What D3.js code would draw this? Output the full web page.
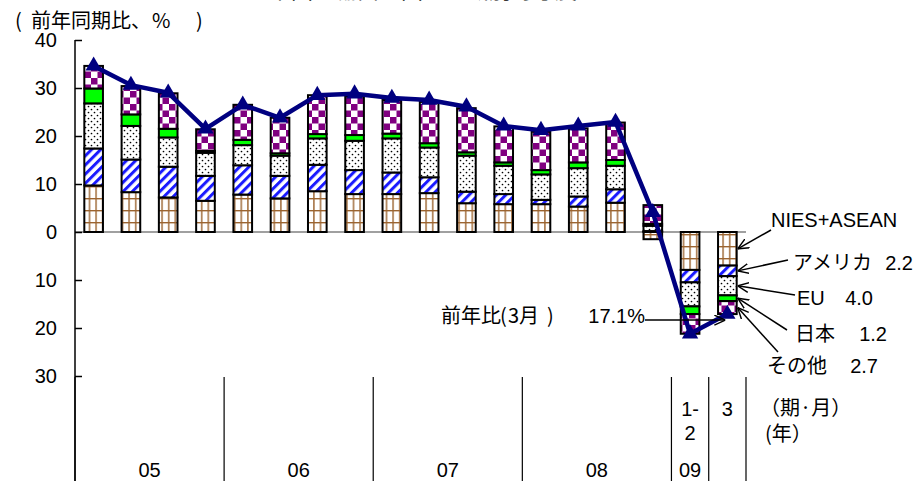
<!DOCTYPE html>
<html>
<head>
<meta charset="utf-8">
<script src="https://cdn.jsdelivr.net/npm/d3@7"></script>
<style>
  html, body { margin: 0; padding: 0; background: #fff; }
  svg { display: block; }
  text { font-family: "Liberation Sans", Arial, "Noto Sans CJK JP", sans-serif; fill: #000; }
</style>
</head>
<body>
<svg id="chart" width="918" height="481"></svg>
<script>
// ---------------- DATA ----------------
const categories = ["05Q1","05Q2","05Q3","05Q4","06Q1","06Q2","06Q3","06Q4",
                    "07Q1","07Q2","07Q3","07Q4","08Q1","08Q2","08Q3","08Q4","09/1-2","09/3"];
const monthLabels = ["","","","","","","","","","","","","","","","",["1-","2"],["3"]];
const yearLabels = ["05","06","07","08","09",""];
const yearCounts = [4, 4, 4, 4, 1, 1];
const seriesNames = ["NIES+ASEAN","アメリカ","EU","日本","その他"];
const niesAsean = [9.7, 8.3, 7.2, 6.5, 7.8, 7.0, 8.5, 7.9, 7.9, 8.1, 6.0, 5.8, 5.8, 5.3, 6.1, -1.5, -7.9, -7.0];
const america   = [7.7, 6.8, 6.4, 5.2, 6.1, 4.7, 5.5, 5.0, 4.5, 3.3, 2.4, 2.1, 0.9, 2.1, 2.8, 0.2, -2.6, -2.2];
const eu        = [9.4, 7.0, 6.1, 4.8, 4.2, 4.2, 5.5, 6.1, 7.1, 6.2, 7.5, 5.9, 5.3, 5.9, 4.9, 1.1, -5.0, -4.0];
const japan     = [3.1, 2.4, 1.8, 0.4, 1.1, 0.5, 0.9, 1.2, 1.0, 0.9, 0.7, 0.7, 0.9, 1.2, 1.2, 0.4, -1.6, -1.2];
const other     = [4.7, 5.9, 7.4, 4.5, 7.3, 7.4, 8.1, 8.0, 7.0, 8.6, 9.2, 7.5, 8.0, 7.1, 7.8, 3.9, -4.1, -2.7];
const total     = [34.6, 30.6, 29.0, 21.5, 26.5, 23.8, 28.5, 28.8, 27.9, 27.5, 26.1, 22.1, 21.2, 22.1, 22.9, 4.1, -21.2, -17.1];
const yTicks = [40, 30, 20, 10, 0, -10, -20, -30];
const titleText = "中国の輸出の国・地域別寄与度";
const unitParts = ["(", "前年同期比、", "%", ")"];
const periodNote = "（期·月）";
const yearNote = "(年）";
const latestParts = ["前年比", "(", "3月", ")"];

// ---------------- SETUP ----------------
const svg = d3.select("#chart");
const W = 918, H = 481;
const x0 = 75, x1 = 746;
const CJK = "'Noto Sans CJK JP', sans-serif";

const x = d3.scaleBand().domain(d3.range(categories.length)).range([x0, x1])
  .paddingInner(0.5).paddingOuter(0.25);
const step = x.step();
const y = d3.scaleLinear().domain([-30, 40]).range([376, 40]);

// patterns
const defs = svg.append("defs");
const pN = defs.append("pattern").attr("id","pNies").attr("patternUnits","userSpaceOnUse")
  .attr("width",6.6).attr("height",12);
pN.append("rect").attr("width",6.6).attr("height",12).attr("fill","#fff");
pN.append("rect").attr("x",3).attr("y",0).attr("width",1.4).attr("height",12).attr("fill","#9b6430");
pN.append("rect").attr("x",0).attr("y",6).attr("width",6.6).attr("height",1.4).attr("fill","#9b6430");

const pU = defs.append("pattern").attr("id","pUs").attr("patternUnits","userSpaceOnUse")
  .attr("width",6.5).attr("height",6.5).attr("patternTransform","rotate(45)");
pU.append("rect").attr("width",6.5).attr("height",6.5).attr("fill","#fff");
pU.append("rect").attr("x",0).attr("width",3).attr("height",6.5).attr("fill","#1a1aff");

const pE = defs.append("pattern").attr("id","pEu").attr("patternUnits","userSpaceOnUse")
  .attr("width",6).attr("height",6);
pE.append("rect").attr("width",6).attr("height",6).attr("fill","#fff");
pE.append("circle").attr("cx",1.5).attr("cy",1.5).attr("r",0.85).attr("fill","#000");
pE.append("circle").attr("cx",4.5).attr("cy",4.5).attr("r",0.85).attr("fill","#000");

const pO = defs.append("pattern").attr("id","pOther").attr("patternUnits","userSpaceOnUse")
  .attr("width",13).attr("height",13);
pO.append("rect").attr("width",13).attr("height",13).attr("fill","#fff");
pO.append("rect").attr("x",0).attr("y",0).attr("width",6.5).attr("height",6.5).attr("fill","#800080");
pO.append("rect").attr("x",6.5).attr("y",6.5).attr("width",6.5).attr("height",6.5).attr("fill","#800080");

const fills = ["url(#pNies)","url(#pUs)","url(#pEu)","#00ff00","url(#pOther)"];

defs.append("marker").attr("id","arr").attr("viewBox","0 0 10 10")
  .attr("refX",10).attr("refY",5).attr("markerWidth",11).attr("markerHeight",11)
  .attr("markerUnits","userSpaceOnUse").attr("orient","auto")
  .append("path").attr("d","M0,0.5 L10,5 L0,9.5").attr("fill","none")
  .attr("stroke","#000").attr("stroke-width",1.3);

// ---------------- TITLE / UNIT ----------------
svg.append("text").attr("x", 423).attr("y", -2).attr("text-anchor","middle")
  .style("font-size","22px").style("font-family", CJK).text(titleText);
const unit = svg.append("text").attr("y", 28).style("font-size","20px").style("font-family", CJK);
[15, 31, 152, 196].forEach((xx, k) => unit.append("tspan").attr("x", xx).text(unitParts[k]));

// ---------------- ZERO LINE ----------------
svg.append("line").attr("x1", x0).attr("x2", x1).attr("y1", y(0)).attr("y2", y(0))
  .attr("stroke","#808080").attr("stroke-width",1.5);

// ---------------- BARS ----------------
const table = categories.map((c, i) => ({
  i, s0: niesAsean[i], s1: america[i], s2: eu[i], s3: japan[i], s4: other[i]
}));
const stack = d3.stack().keys(["s0","s1","s2","s3","s4"]).offset(d3.stackOffsetDiverging);
const stacked = stack(table);

const gBars = svg.append("g");
stacked.forEach((layer, k) => {
  gBars.selectAll(null).data(layer).enter().append("rect")
    .attr("x", d => x(d.data.i))
    .attr("width", x.bandwidth())
    .attr("y", d => y(Math.max(d[0], d[1])))
    .attr("height", d => Math.abs(y(d[0]) - y(d[1])))
    .attr("fill", fills[k])
    .attr("stroke", "#000").attr("stroke-width", 2);
});

// ---------------- Y AXIS ----------------
const yAxis = d3.axisLeft(y).tickValues(yTicks).tickFormat(d => Math.abs(d))
  .tickSizeInner(-7).tickSizeOuter(0).tickPadding(18);
const gy = svg.append("g").attr("transform", `translate(${x0},0)`).call(yAxis);
gy.select(".domain").remove();
gy.selectAll(".tick line").attr("stroke","#000").attr("stroke-width",1.5);
gy.selectAll(".tick text").style("font-size","20px")
  .style("font-family","'Liberation Sans', Arial, sans-serif").attr("fill","#000");
svg.append("line").attr("x1", x0).attr("x2", x0).attr("y1", y(40)).attr("y2", H)
  .attr("stroke","#000").attr("stroke-width",1.5);

// ---------------- LINE ----------------
const line = d3.line().x((d, i) => x(i) + x.bandwidth() / 2).y(d => y(d));
svg.append("path").datum(total).attr("d", line).attr("fill","none")
  .attr("stroke","#000080").attr("stroke-width",4.5).attr("stroke-linejoin","round");
svg.selectAll(null).data(total).enter().append("path")
  .attr("d", d3.symbol().type(d3.symbolTriangle).size(115))
  .attr("transform", (d, i) => `translate(${x(i) + x.bandwidth() / 2},${y(d)})`)
  .attr("fill","#000080");

// ---------------- CATEGORY AXIS ----------------
const catTop = 377;
let acc = 0;
const bounds = [0];
yearCounts.forEach(n => { acc += n; bounds.push(acc); });
const gCat = svg.append("g");
bounds.forEach(b => {
  gCat.append("line").attr("x1", x0 + b * step).attr("x2", x0 + b * step)
    .attr("y1", catTop).attr("y2", H).attr("stroke","#000").attr("stroke-width",1.2);
});
yearLabels.forEach((lab, k) => {
  const xm = x0 + (bounds[k] + bounds[k + 1]) / 2 * step;
  gCat.append("text").attr("x", xm).attr("y", 477).attr("text-anchor","middle")
    .style("font-size","20px").text(lab);
});
monthLabels.forEach((lab, i) => {
  if (!lab) return;
  lab.forEach((t, j) => {
    gCat.append("text").attr("x", x(i) + x.bandwidth() / 2).attr("y", 416 + j * 24)
      .attr("text-anchor","middle").style("font-size","20px").text(t);
  });
});
gCat.append("text").attr("x", 760).attr("y", 415).style("font-size","20px")
  .style("font-family", CJK).text(periodNote);
gCat.append("text").attr("x", 765).attr("y", 441).style("font-size","20px")
  .style("font-family", CJK).text(yearNote);

// ---------------- ANNOTATIONS ----------------
const last = categories.length - 1;
const barRight = x(last) + x.bandwidth() + 1;
const annLayout = [
  { tx: 771, ty: 227, vx: null, sx: 771, sy: 230 },
  { tx: 793, ty: 270, vx: 913, sx: 788, sy: 260 },
  { tx: 797, ty: 305, vx: 873, sx: 795, sy: 295 },
  { tx: 795, ty: 341, vx: 887, sx: 787, sy: 330 },
  { tx: 767, ty: 373, vx: 878, sx: 778, sy: 352 }
];
const gAnn = svg.append("g");
stacked.forEach((layer, k) => {
  const d = layer[last];
  const mid = (d[0] + d[1]) / 2;
  const L = annLayout[k];
  gAnn.append("line").attr("x1", L.sx).attr("y1", L.sy).attr("x2", barRight).attr("y2", y(mid))
    .attr("stroke","#000").attr("stroke-width",1.5).attr("marker-end","url(#arr)");
  gAnn.append("text").attr("x", L.tx).attr("y", L.ty).style("font-size","20px").text(seriesNames[k]);
  if (L.vx !== null) {
    const vals = [niesAsean, america, eu, japan, other][k];
    gAnn.append("text").attr("x", L.vx).attr("y", L.ty).attr("text-anchor","end")
      .style("font-size","20px").text(Math.abs(vals[last]).toFixed(1));
  }
});
// latest total
const lastY = y(total[last]) + 6;
const lt = gAnn.append("text").attr("y", lastY + 3).style("font-size","20px").style("font-family", CJK);
[441, 500, 508, 547].forEach((xx, k) => lt.append("tspan").attr("x", xx).text(latestParts[k]));
gAnn.append("text").attr("x", 645).attr("y", lastY + 3).attr("text-anchor","end")
  .style("font-size","20px").text(Math.abs(total[last]).toFixed(1) + "%");
gAnn.append("line").attr("x1", 645).attr("y1", lastY).attr("x2", x(last) + x.bandwidth() / 2 - 2).attr("y2", lastY)
  .attr("stroke","#000").attr("stroke-width",1.5).attr("marker-end","url(#arr)");
</script>
</body>
</html>
